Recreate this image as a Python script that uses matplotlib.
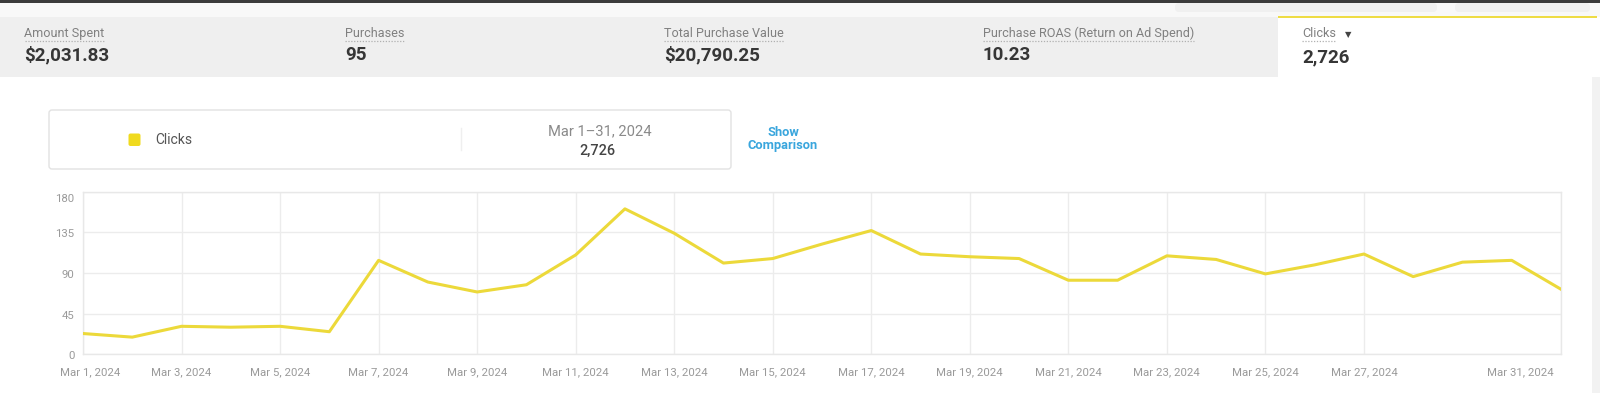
import matplotlib
matplotlib.use("Agg")
import matplotlib.pyplot as plt
from matplotlib.patches import Rectangle, FancyBboxPatch
from matplotlib.transforms import ScaledTranslation
import pandas as pd

plt.rcParams['font.family'] = ['Roboto', 'DejaVu Sans']

# ---------------- data ----------------
metric_labels = ["Amount Spent", "Purchases", "Total Purchase Value",
                 "Purchase ROAS (Return on Ad Spend)", "Clicks"]
metric_values = ["$2,031.83", "95", "$20,790.25", "10.23", "2,726"]
dates = pd.date_range("2024-03-01", "2024-03-31", freq="D")
clicks = [23, 19, 31, 30, 31, 25, 104, 80, 69, 77,
          110, 161, 134, 101, 106, 122, 137, 111, 108, 106,
          82, 82, 109, 105, 89, 99, 111, 86, 102, 104, 72]
tick_days = [1, 3, 5, 7, 9, 11, 13, 15, 17, 19, 21, 23, 25, 27, 31]
y_ticks = [0, 45, 90, 135, 180]
series_name = "Clicks"
period_label = "Mar 1\u201331, 2024"
period_total = "2,726"

W, H = 1600, 393
fig = plt.figure(figsize=(W / 100, H / 100), dpi=100)
fig.patch.set_facecolor("#ffffff")

# background axes in pixel coordinates (y downward)
bg = fig.add_axes([0, 0, 1, 1])
bg.set_xlim(0, W)
bg.set_ylim(H, 0)
bg.axis("off")

bg.add_patch(Rectangle((0, 0), W, 17, color="#f8f8f8", lw=0))
bg.add_patch(Rectangle((0, 0), W, 2.6, color="#3b3b3b", lw=0))
bg.add_patch(FancyBboxPatch((1175, 3), 262, 9, boxstyle="round,pad=0,rounding_size=4",
                            fc="#f0f0f0", ec="none"))
bg.add_patch(FancyBboxPatch((1455, 3), 135, 9, boxstyle="round,pad=0,rounding_size=4",
                            fc="#f0f0f0", ec="none"))
bg.add_patch(Rectangle((0, 16.5), 1278, 60.5, color="#efefef", lw=0))
bg.add_patch(Rectangle((1278, 16.5), W - 1278, 60.5, color="#ffffff", lw=0))
bg.add_patch(Rectangle((1278, 15.5), 319, 2.6, color="#eedc45", lw=0))
bg.add_patch(Rectangle((1592, 77), 8, H - 77, color="#f2f2f2", lw=0))

# header metrics
col_x = [24.5, 345, 664, 983, 1302]
val_y = [55, 55, 55, 55, 57]
label_texts = []
for x, vy, lab, val in zip(col_x, val_y, metric_labels, metric_values):
    t = bg.text(x, 33.5, lab, fontsize=9.1, color="#808080", va="center", ha="left")
    label_texts.append(t)
    bg.text(x, vy, val, fontsize=13.5, color="#363636", fontweight="bold",
            va="center", ha="left")

fig.canvas.draw()
inv = bg.transData.inverted()
for t in label_texts:
    bb = t.get_window_extent()
    x0 = inv.transform((bb.x0, bb.y0))[0]
    x1 = inv.transform((bb.x1, bb.y0))[0]
    bg.plot([x0, x1], [41, 41], color="#b0b0b0", lw=0.9, ls=(0, (1, 1.3)))
bb = label_texts[-1].get_window_extent()
xe = inv.transform((bb.x1, bb.y0))[0]
bg.text(xe + 9, 34.5, "\u25BC", fontsize=6, color="#444444", va="center", ha="left",
        family="DejaVu Sans")

# legend / summary box
bg.add_patch(FancyBboxPatch((49, 110), 682, 59, boxstyle="round,pad=0,rounding_size=3",
                            fc="#ffffff", ec="#e2e2e2", lw=1))
bg.add_patch(FancyBboxPatch((128.5, 133.5), 12, 12.5, boxstyle="round,pad=0,rounding_size=2",
                            fc="#f0da1e", ec="none"))
bg.text(155, 140, series_name, fontsize=10, color="#555555", va="center", ha="left")
bg.plot([461, 461], [128, 150], color="#efefef", lw=1)
bg.text(600, 131, period_label, fontsize=10.6, color="#8a8a8a", va="center", ha="center")
bg.text(597, 151, period_total, fontsize=10.4, color="#444444", va="center", ha="center",
        fontweight="medium")
bg.text(783, 132.5, "Show", fontsize=9.3, color="#3aa6dd", va="center", ha="center",
        fontweight="bold")
bg.text(783, 145, "Comparison", fontsize=9.3, color="#3aa6dd", va="center", ha="center",
        fontweight="bold")

# ---------------- line chart ----------------
left, right = 83, 1561
top, bottom = 191.7, 354.3
ax = fig.add_axes([left / W, 1 - bottom / H, (right - left) / W, (bottom - top) / H])
ax.set_facecolor("none")
ax.plot(dates, clicks, color="#ecd93a", lw=2.2, solid_joinstyle="round", zorder=3)
ax.set_xlim(dates[0], dates[-1])
ax.set_ylim(0, 180)

tick_dates = [pd.Timestamp(2024, 3, d) for d in tick_days]
ax.set_xticks(tick_dates)
ax.set_xticklabels([f"Mar {d.day}, 2024" for d in tick_dates])
ax.set_yticks(y_ticks)
ax.set_yticklabels([str(v) for v in y_ticks])
ax.grid(True, color="#ececec", lw=1)
ax.set_axisbelow(True)
for s in ax.spines.values():
    s.set_color("#e8e8e8")
    s.set_linewidth(1)
ax.tick_params(axis="both", length=0, labelsize=8.2, labelcolor="#9a9a9a")
ax.tick_params(axis="x", pad=9)
ax.tick_params(axis="y", pad=6)

xl = ax.get_xticklabels()
xl[0].set_transform(xl[0].get_transform() + ScaledTranslation(0.07, 0, fig.dpi_scale_trans))
xl[-1].set_transform(xl[-1].get_transform() + ScaledTranslation(-0.41, 0, fig.dpi_scale_trans))
yl = ax.get_yticklabels()
for lab in yl:
    lab.set_transform(lab.get_transform() + ScaledTranslation(0, -0.01, fig.dpi_scale_trans))
yl[-1].set_transform(yl[-1].get_transform() + ScaledTranslation(0, -0.05, fig.dpi_scale_trans))

fig.savefig("out.png", dpi=100, facecolor=fig.get_facecolor())
